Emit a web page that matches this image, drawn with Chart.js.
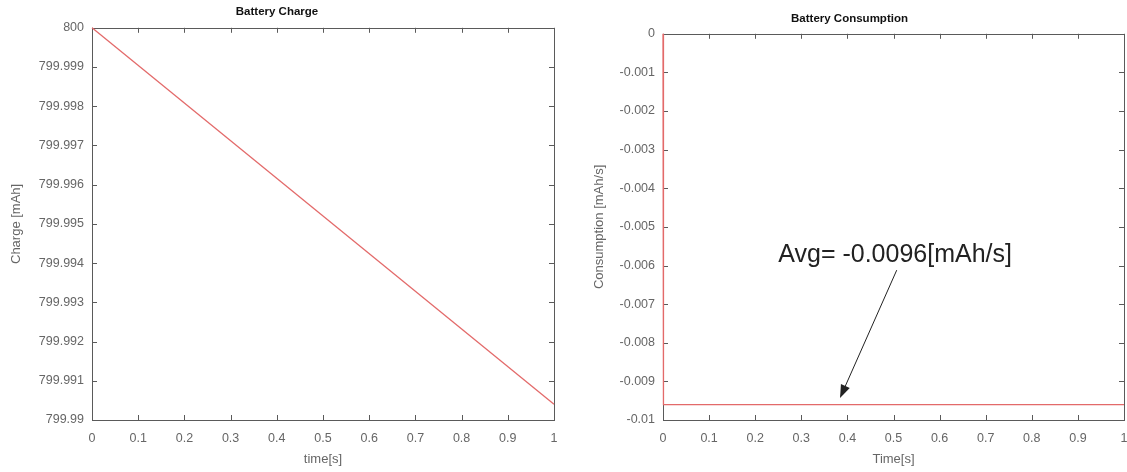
<!DOCTYPE html>
<html>
<head>
<meta charset="utf-8">
<script src="https://cdn.jsdelivr.net/npm/chart.js@4.4.1/dist/chart.umd.min.js"></script>
<style>
  body { margin: 0; background: #fff; overflow: hidden; }
  .caixa { position: absolute; top: 0; height: 472px; }
</style>
</head>
<body>
<div class="caixa" style="left:0; width:563px"><canvas id="carga"></canvas></div>
<div class="caixa" style="left:575px; width:552px"><canvas id="consumo"></canvas></div>
<script>
// dados
const tempoCarga = [0, 1]
const valoresCarga = [800, 799.9904]
const tempoConsumo = [0, 0.001, 1]
const valoresConsumo = [0, -0.0096, -0.0096]

const ticksX = [0, 0.1, 0.2, 0.3, 0.4, 0.5, 0.6, 0.7, 0.8, 0.9, 1]
const ticksCarga = [799.99, 799.991, 799.992, 799.993, 799.994, 799.995, 799.996, 799.997, 799.998, 799.999, 800]
const ticksConsumo = [-0.01, -0.009, -0.008, -0.007, -0.006, -0.005, -0.004, -0.003, -0.002, -0.001, 0]

const textoMedia = 'Avg= -0.0096[mAh/s]'
const posTexto = [0.25, -0.00574]
const setaInicio = [0.507, -0.00612]
const setaFim = [0.384, -0.00943]

const corLinha = '#e36a6a'
const corEixo = '#5a5a5a'
const corTexto = '#666'
const fonte = '"Liberation Sans", Arial, sans-serif'

function formata(v) {
	return String(parseFloat(v.toFixed(4)))
}

// caixa estilo matlab com ticks para dentro
const caixaPlugin = {
	id: 'caixa',
	beforeDatasetsDraw(chart) {
		let ctx = chart.ctx
		let a = chart.chartArea
		let sx = chart.scales.x
		let sy = chart.scales.y
		ctx.save()
		ctx.strokeStyle = corEixo
		ctx.lineWidth = 1
		ctx.strokeRect(Math.round(a.left) + 0.5, Math.round(a.top) + 0.5, Math.round(a.right - a.left), Math.round(a.bottom - a.top))
		ctx.beginPath()
		sx.ticks.forEach(t => {
			let px = Math.round(sx.getPixelForValue(t.value)) + 0.5
			ctx.moveTo(px, a.bottom); ctx.lineTo(px, a.bottom - 5)
			ctx.moveTo(px, a.top); ctx.lineTo(px, a.top + 5)
		})
		sy.ticks.forEach(t => {
			let py = Math.round(sy.getPixelForValue(t.value)) + 0.5
			ctx.moveTo(a.left, py); ctx.lineTo(a.left + 5, py)
			ctx.moveTo(a.right, py); ctx.lineTo(a.right - 5, py)
		})
		ctx.stroke()
		ctx.restore()
	}
}

const notaPlugin = {
	id: 'nota',
	afterDraw(chart) {
		if (chart.canvas.id != 'consumo') return
		let ctx = chart.ctx
		let sx = chart.scales.x
		let sy = chart.scales.y
		ctx.save()
		ctx.fillStyle = '#222'
		ctx.font = '25px ' + fonte
		ctx.textBaseline = 'middle'
		ctx.fillText(textoMedia, sx.getPixelForValue(posTexto[0]), sy.getPixelForValue(posTexto[1]))
		let x1 = sx.getPixelForValue(setaInicio[0]), y1 = sy.getPixelForValue(setaInicio[1])
		let x2 = sx.getPixelForValue(setaFim[0]), y2 = sy.getPixelForValue(setaFim[1])
		let ang = Math.atan2(y2 - y1, x2 - x1)
		ctx.strokeStyle = '#222'
		ctx.lineWidth = 1
		ctx.beginPath()
		ctx.moveTo(x1, y1)
		ctx.lineTo(x2 - 10 * Math.cos(ang), y2 - 10 * Math.sin(ang))
		ctx.stroke()
		ctx.beginPath()
		ctx.moveTo(x2, y2)
		ctx.lineTo(x2 - 14 * Math.cos(ang - 0.35), y2 - 14 * Math.sin(ang - 0.35))
		ctx.lineTo(x2 - 14 * Math.cos(ang + 0.35), y2 - 14 * Math.sin(ang + 0.35))
		ctx.closePath()
		ctx.fill()
		ctx.restore()
	}
}

function desenhaGrafico(idCanvas, xs, ys, ticksY, titulo, tituloX, tituloY, larguraY, padTitulo, padTituloY, padDireita) {
	let pontos = xs.map((x, i) => ({ x: x, y: ys[i] }))
	new Chart(document.getElementById(idCanvas), {
		type: 'line',
		data: {
			datasets: [{
				data: pontos,
				borderColor: corLinha,
				borderWidth: 1.3,
				pointRadius: 0,
				tension: 0,
				clip: false
			}]
		},
		options: {
			responsive: true,
			maintainAspectRatio: false,
			animation: false,
			layout: { padding: { left: 0, right: padDireita, top: 0, bottom: 0 } },
			plugins: {
				legend: { display: false },
				tooltip: { enabled: false },
				title: {
					display: true,
					text: titulo,
					color: '#111',
					font: { family: fonte, size: 11.5, weight: 'bold' },
					padding: padTitulo
				}
			},
			scales: {
				x: {
					type: 'linear',
					min: 0,
					max: 1,
					grid: { display: false },
					border: { display: false },
					afterBuildTicks: s => { s.ticks = ticksX.map(v => ({ value: v })) },
					afterFit: s => { s.height = 52; s.paddingLeft = 0; s.paddingRight = 0 },
					ticks: {
						color: corTexto,
						padding: 3,
						maxRotation: 0,
						font: { family: fonte, size: 12.5 },
						callback: v => formata(v)
					},
					title: {
						display: true,
						text: tituloX,
						color: corTexto,
						padding: { top: 0, bottom: 5 },
						font: { family: fonte, size: 13 }
					}
				},
				y: {
					type: 'linear',
					min: ticksY[0],
					max: ticksY[ticksY.length - 1],
					grid: { display: false },
					border: { display: false },
					afterBuildTicks: s => { s.ticks = ticksY.map(v => ({ value: v })) },
					afterFit: s => { s.width = larguraY },
					ticks: {
						color: corTexto,
						padding: 0,
						font: { family: fonte, size: 12.5 },
						callback: v => formata(v)
					},
					title: {
						display: true,
						text: tituloY,
						color: corTexto,
						padding: { top: padTituloY, bottom: 0 },
						font: { family: fonte, size: 13 }
					}
				}
			}
		},
		plugins: [caixaPlugin, notaPlugin]
	})
}

desenhaGrafico('carga', tempoCarga, valoresCarga, ticksCarga, 'Battery Charge', 'time[s]', 'Charge [mAh]', 92, { top: 5, bottom: 9 }, 9, 9)
desenhaGrafico('consumo', tempoConsumo, valoresConsumo, ticksConsumo, 'Battery Consumption', 'Time[s]', 'Consumption [mAh/s]', 88, { top: 12, bottom: 8 }, 17, 3)
</script>
</body>
</html>
